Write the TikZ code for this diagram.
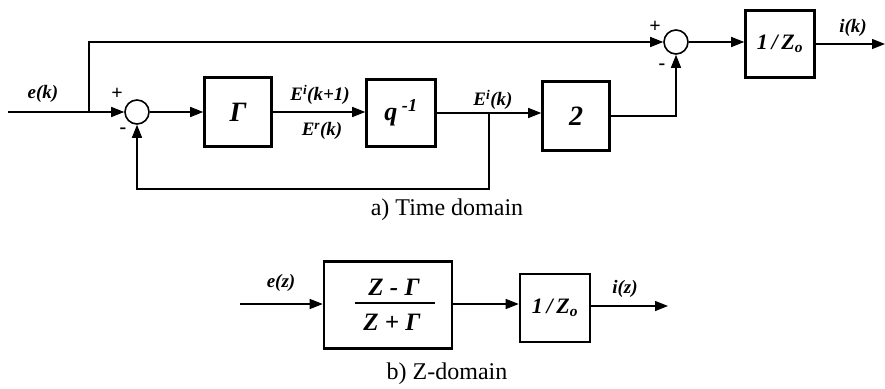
\documentclass[tikz,border=0pt]{standalone}
\usepackage{fontspec}
\setmainfont{Liberation Serif}
\usetikzlibrary{arrows.meta}
\begin{document}
\begin{tikzpicture}[x=1pt,y=-1pt,
  blk/.style={draw, line width=2.6pt, inner sep=0pt, font=\fontsize{28}{30}\selectfont\bfseries\itshape},
  sumj/.style={draw, circle, line width=1.6pt, minimum size=24pt, inner sep=0pt},
  lbl/.style={font=\fontsize{19}{21}\selectfont\bfseries\itshape, inner sep=1pt},
  frac/.style={font=\fontsize{25}{27}\selectfont\bfseries\itshape, inner sep=1pt},
  sgn/.style={font=\fontsize{20}{20}\selectfont\bfseries, inner sep=0pt},
  captext/.style={font=\fontsize{24}{26}\selectfont},
  conn/.style={line width=1.4pt},
  arr/.style={conn, -{Triangle[length=13pt,width=10pt]}}
]
\useasboundingbox (0,0) rectangle (885,388);
% ---- a) time domain
\coordinate (in) at (8,112);
\coordinate (br1) at (89,112);
\node[sumj] (s1) at (137,112) {};
\node[blk, minimum width=67pt, minimum height=69pt] (g) at (238,112) {Γ};
\node[blk, minimum width=69pt, minimum height=67pt, font=\fontsize{26}{28}\selectfont\bfseries\itshape] (q) at (401,113) {q\textsuperscript{ -1}};
\coordinate (br2) at (489,113);
\node[blk, minimum width=67pt, minimum height=69pt] (two) at (576,116) {2};
\node[sumj] (s2) at (676,42) {};
\node[blk, minimum width=69pt, minimum height=67pt, font=\fontsize{22}{24}\selectfont\bfseries\itshape] (zo) at (780,44) {1\,/\,Z\textsubscript{o}};
\coordinate (out) at (885,44);

\draw[arr] (in) -- (s1.west);
\draw[arr] (br1) |- (s2.west);
\draw[arr] (s1.east) -- (g.west);
\draw[arr] (g.east) -- (g.east -| q.west);
\draw[arr] (q.east) -- (q.east -| two.west);
\draw[arr] (br2) -- ++(0,76) -| (s1.south);
\draw[arr] (two.east) -| (s2.south);
\draw[arr] (s2.east) -- (s2.east -| zo.west);
\draw[arr] (zo.east) -- (out);

\node[sgn] (p1) at (117,94) {+};
\node[sgn] (m1) at (123,131) {-};
\node[sgn] (p2) at (655,27) {+};
\node[sgn] (m2) at (662,67) {-};

\node[lbl] (lek) at (43,94) {e(k)};
\node[lbl] (lei) at (320,95) {E\textsuperscript{i}(k+1)};
\node[lbl] (ler) at (322,131) {E\textsuperscript{r}(k)};
\node[lbl] (leik) at (493,100) {E\textsuperscript{i}(k)};
\node[lbl] (lik) at (853,28) {i(k)};

\node[captext] (capa) at (447,210) {a) Time domain};

% ---- b) Z-domain
\coordinate (ein) at (240,304);
\node[blk, minimum width=128pt, minimum height=87pt] (tf) at (388,305) {};
\node[frac] (num) at (394,287) {Z - Γ};
\node[frac] (den) at (392,322) {Z + Γ};
\draw[line width=1.8pt] (355,303) -- (435,303);
\node[blk, minimum width=70pt, minimum height=68pt, font=\fontsize{22}{24}\selectfont\bfseries\itshape] (zo2) at (555,308) {1\,/\,Z\textsubscript{o}};
\coordinate (iout) at (668,306);

\draw[arr] (ein) -- (ein -| tf.west);
\draw[arr] (tf.east |- ein) -- (ein -| zo2.west);
\draw[arr] (zo2.east |- iout) -- (iout);

\node[lbl] (lez) at (281,283) {e(z)};
\node[lbl] (liz) at (625,289) {i(z)};

\node[captext] (capb) at (447,374) {b) Z-domain};
\end{tikzpicture}
\end{document}
